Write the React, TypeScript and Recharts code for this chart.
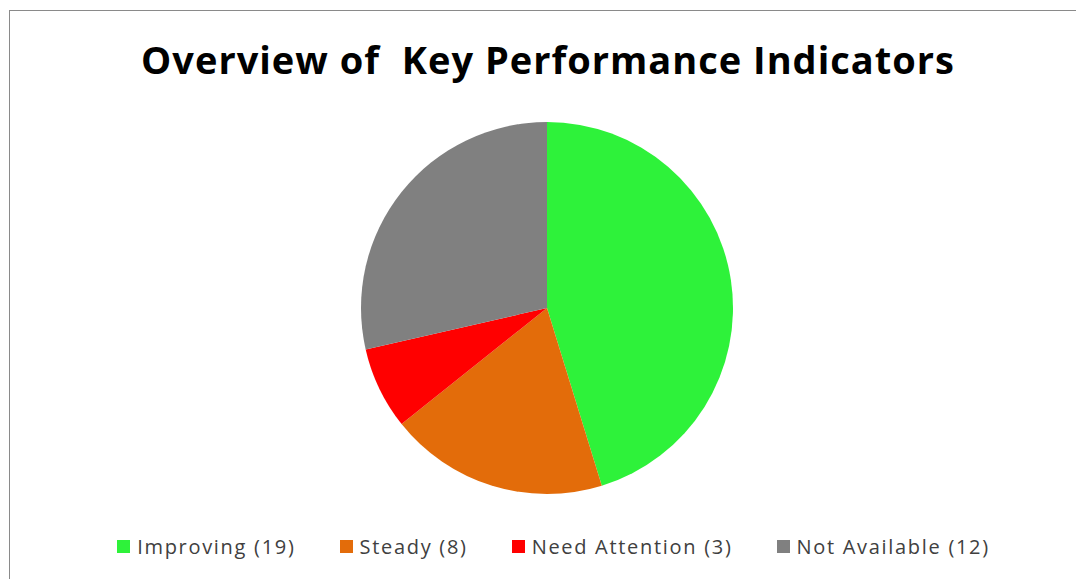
import { PieChart, Pie, Cell, Legend } from 'recharts'

const categories = ['Improving', 'Steady', 'Need Attention', 'Not Available']
const counts = [19, 8, 3, 12]
const colors = ['#2ef23a', '#e36c0a', '#ff0000', '#808080']

const data = categories.map((name, i) => ({ name, value: counts[i] }))

function KpiLegend() {
  return (
    <div style={{ display: 'flex', justifyContent: 'center', gap: 44, fontFamily: '"Open Sans", sans-serif', fontSize: 20, letterSpacing: 1.7, color: '#404040', lineHeight: '27px' }}>
      {data.map((d, i) => (
        <div key={d.name} style={{ display: 'flex', alignItems: 'center' }}>
          <span style={{ display: 'inline-block', width: 13, height: 13, background: colors[i], marginRight: 7 }} />
          <span>{`${d.name} (${d.value})`}</span>
        </div>
      ))}
    </div>
  )
}

export default function App() {
  return (
    <div style={{ position: 'fixed', left: 9, top: 10, width: 1100, height: 600, borderTop: '1px solid #8a8a8a', borderLeft: '1px solid #8a8a8a', background: '#fff', overflow: 'hidden' }}>
      <div style={{ position: 'absolute', left: 0, width: 1076, top: 22, textAlign: 'center', fontFamily: '"Open Sans", sans-serif', fontWeight: 700, fontSize: 38, letterSpacing: 1, color: '#000', whiteSpace: 'pre' }}>
        Overview of  Key Performance Indicators
      </div>
      <PieChart width={1076} height={569} margin={{ top: 0, right: 0, bottom: 0, left: 0 }}>
        <Pie data={data} dataKey="value" nameKey="name" cx={537} cy={297} outerRadius={186} startAngle={90} endAngle={-270} stroke="none" isAnimationActive={false}>
          {data.map((d, i) => <Cell key={d.name} fill={colors[i]} />)}
        </Pie>
        <Legend content={() => <KpiLegend />} wrapperStyle={{ position: 'absolute', left: 0, width: 1087, top: 522 }} />
      </PieChart>
    </div>
  )
}
